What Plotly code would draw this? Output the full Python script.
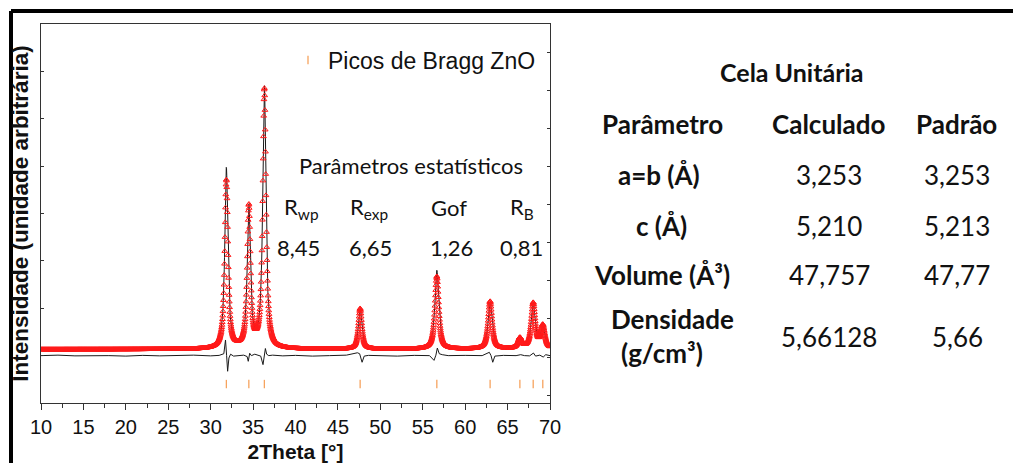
import numpy as np
import plotly.graph_objects as go

# ---- Rietveld refinement data (ZnO) ----
# 2θ grid of the scan, step 0.03°
two_theta = np.round(np.arange(10.0, 70.0001, 0.03), 3)

# Reflections: position (°), net intensity (observed / calculated), FWHM (°)
peak_pos = [31.85, 34.50, 36.33, 47.62, 56.66, 62.94, 66.45, 68.02, 69.15]
peak_obs = [3560, 2980, 5480, 860, 1540, 1010, 220, 960, 480]
peak_calc = [3820, 2980, 5530, 860, 1670, 1010, 220, 960, 480]
peak_fwhm = [0.44, 0.44, 0.45, 0.47, 0.53, 0.55, 0.55, 0.55, 0.56]
background = 1130
lorentz_fraction = 0.9

# Difference curve (Yobs - Ycalc), drawn with a +1000 offset
diff_x = [10, 12, 14, 16, 18, 20, 22, 24, 26, 28, 30, 31.0, 31.55, 31.75,
          31.88, 32.0, 32.15, 32.35, 32.7, 33.3, 33.9, 34.3, 34.43, 34.6,
          34.8, 35.2, 35.5, 35.9, 36.17, 36.3, 36.45, 36.6, 36.85, 37.3,
          38.5, 40, 42, 44, 46, 47.3, 47.56, 47.85, 48.1, 48.6, 50, 52,
          54, 55.8, 56.33, 56.55, 56.72, 56.95, 57.3, 58, 60, 62.0, 62.85,
          63.05, 63.25, 63.5, 64.5, 66.0, 66.55, 67.0, 67.6, 68.05, 68.3,
          68.8, 69.2, 69.5, 70]
diff_y = [1000, 1010, 995, 1005, 1000, 990, 1005, 995, 1000, 1010, 995,
          1005, 1040, 1330, 1000, 670, 950, 1030, 990, 1000, 1010, 980,
          880, 1050, 1000, 1030, 1010, 990, 810, 1000, 1150, 1030, 1000,
          1010, 995, 1005, 990, 1000, 1010, 1060, 1040, 860, 990, 1005,
          1000, 990, 1005, 1000, 900, 1010, 1160, 1040, 1020, 1000, 1005,
          1000, 1070, 1000, 860, 990, 1005, 1000, 1020, 1000, 995, 1055,
          990, 1010, 970, 1020, 1000]

# Bragg reflection markers for ZnO
bragg_pos = [31.85, 34.50, 36.33, 47.62, 56.66, 62.94, 66.45, 68.02, 69.15]
bragg_level = 400

# Statistical parameters of the refinement
stat_labels = ["R<sub>wp</sub>", "R<sub>exp</sub>", "Gof", "R<sub>B</sub>"]
stat_values = ["8,45", "6,65", "1,26", "0,81"]

# Unit cell table
cell_headers = ["Parâmetro", "Calculado", "Padrão"]
cell_params = ["a=b (Å)", "c (Å)", "Volume (Å³)", "Densidade"]
cell_calc = ["3,253", "5,210", "47,757", "5,66128"]
cell_std = ["3,253", "5,213", "47,77", "5,66"]


def profile(heights):
    y = np.full(two_theta.shape, float(background))
    for p, h, w in zip(peak_pos, heights, peak_fwhm):
        d = (two_theta - p) / w
        lor = 1.0 / (1.0 + 4.0 * d ** 2)
        gau = np.exp(-4.0 * np.log(2) * d ** 2)
        y += h * (lorentz_fraction * lor + (1 - lorentz_fraction) * gau)
    return y


y_obs = profile(peak_obs)
y_calc = profile(peak_calc)

# ---- page geometry (pixels) ----
W, H = 1013, 463
L, R, T, B = 41, 550, 24, 403


def px(x):
    return (x - L) / (R - L)


def py(y):
    return (B - y) / (B - T)


fig = go.Figure()

fig.add_trace(go.Scatter(
    x=two_theta, y=y_calc, mode="lines", showlegend=False,
    line=dict(color="#1a1a1a", width=1), hoverinfo="skip"))
fig.add_trace(go.Scatter(
    x=two_theta, y=y_obs, mode="markers", showlegend=False,
    marker=dict(symbol="triangle-up-open", size=5, color="#ff1a1a",
                line=dict(width=1, color="#ff1a1a"))))
fig.add_trace(go.Scatter(
    x=diff_x, y=diff_y, mode="lines", showlegend=False,
    line=dict(color="#1a1a1a", width=1)))
fig.add_trace(go.Scatter(
    x=bragg_pos, y=[bragg_level] * len(bragg_pos), mode="markers",
    name="Picos de Bragg ZnO",
    marker=dict(symbol="line-ns-open", size=6, color="#f6a35e",
                line=dict(width=1.3, color="#f6a35e"))))
# right-hand axis carrying its own inner ticks
fig.add_trace(go.Scatter(x=[None], y=[None], yaxis="y2", showlegend=False))

axis_color = "#333333"
fig.update_layout(
    width=W, height=H,
    margin=dict(l=L, r=W - R, t=T, b=H - B, pad=0),
    paper_bgcolor="white", plot_bgcolor="white",
    font=dict(family="Liberation Sans, Arial, sans-serif", color="#111"),
    xaxis=dict(
        range=[10, 70], dtick=5, tick0=10, ticks="outside", ticklen=6,
        tickwidth=1.2, tickcolor=axis_color, automargin=False,
        minor=dict(dtick=2.5, ticks="outside", ticklen=4, tickwidth=1.2,
                   tickcolor=axis_color),
        showline=True, linecolor=axis_color, linewidth=1.3, mirror=True,
        showgrid=False, zeroline=False,
        tickfont=dict(size=20, family="Liberation Sans, Arial"),
        title=dict(text="<b>2Theta [°]</b>", standoff=8,
                   font=dict(size=21, family="Liberation Sans, Arial")),
    ),
    yaxis=dict(
        range=[0, 8000], dtick=1000, tick0=0, ticks="inside", ticklen=3,
        tickwidth=1.2, tickcolor=axis_color, showticklabels=False,
        automargin=False,
        showline=True, linecolor=axis_color, linewidth=1.3, mirror=True,
        showgrid=False, zeroline=False,
        title=dict(text="<b>Intensidade (unidade arbitrária)</b>", standoff=4,
                   font=dict(size=22.5, family="Liberation Sans, Arial")),
    ),
    yaxis2=dict(
        overlaying="y", side="right", range=[-1.21, 8.76], dtick=1, tick0=0,
        ticks="inside", ticklen=3, tickwidth=1.2, tickcolor=axis_color,
        showticklabels=False, showgrid=False, zeroline=False,
        showline=False, automargin=False,
    ),
    legend=dict(
        x=px(288), y=py(60), xanchor="left", yanchor="middle",
        bgcolor="rgba(0,0,0,0)", borderwidth=0,
        font=dict(size=23, family="Liberation Sans, Arial", color="#111"),
    ),
    showlegend=True,
)

# outer frame (top and left edges)
frame = dict(color="black", width=4)
fig.add_shape(type="line", xref="paper", yref="paper",
              x0=px(11), y0=py(11), x1=px(W + 20), y1=py(11), line=frame)
fig.add_shape(type="line", xref="paper", yref="paper",
              x0=px(11), y0=py(11), x1=px(11), y1=py(H + 20), line=frame)

CAL = "Lato, Noto Sans, sans-serif"


def text(x, y, s, size, bold=False, family=CAL):
    fig.add_annotation(
        xref="paper", yref="paper", x=px(x), y=py(y), text=f"<b>{s}</b>" if bold else s,
        showarrow=False, xanchor="center", yanchor="middle",
        font=dict(size=size, family=family, color="#111"))


# statistics block inside the plot
text(411, 165, "Parâmetros estatísticos", 22)
for cx, lab, val, vx in zip([301, 369, 449, 522], stat_labels, stat_values,
                            [298, 370, 451, 521]):
    text(cx, 208, lab, 22)
    text(vx, 247, val, 22)

# unit cell table
text(792, 72, "Cela Unitária", 25, bold=True)
for cx, h in zip([662, 828, 956], cell_headers):
    text(cx, 124, h, 26, bold=True)
row_y = [175, 226, 275, 319]
row_x = [659, 661, 662, 672]
for i, (name, c, s) in enumerate(zip(cell_params, cell_calc, cell_std)):
    text(row_x[i], row_y[i], name, 26, bold=True)
    vy = row_y[i] if i < 3 else 337
    text(829, vy, c, 26)
    text(957, vy, s, 26)
text(662, 353, "(g/cm³)", 26, bold=True)

fig.write_html("out.html")
